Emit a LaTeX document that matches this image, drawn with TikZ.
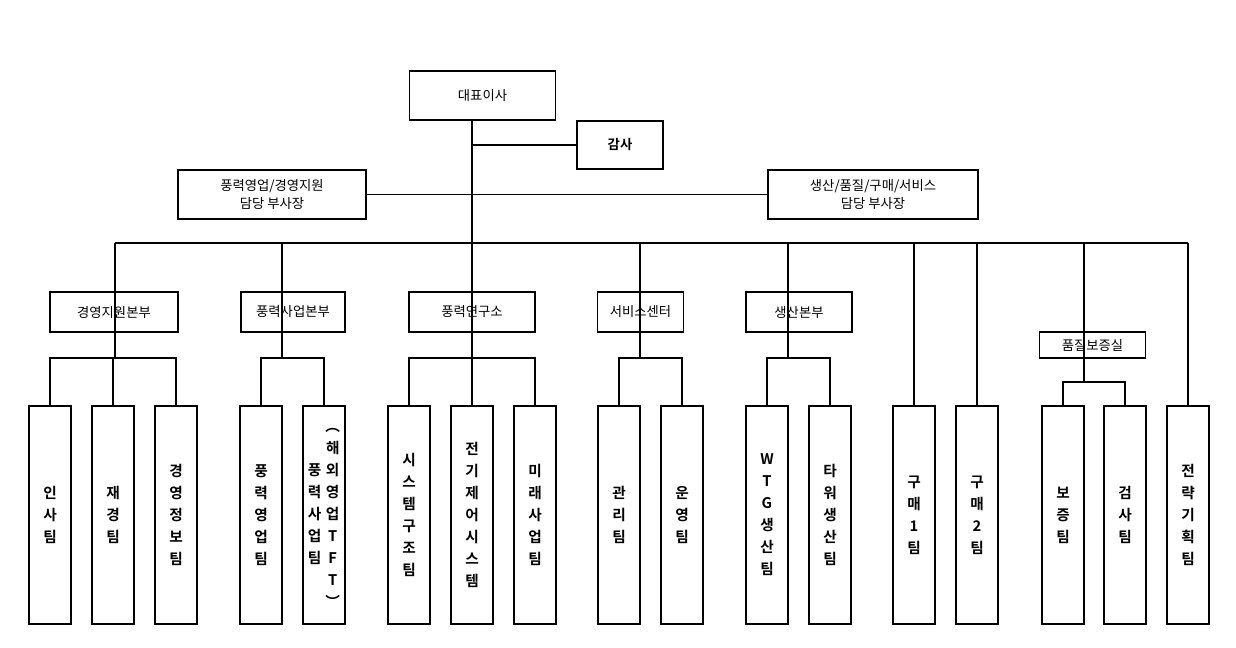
\documentclass[tikz,border=0pt]{standalone}
\usepackage{fontspec}
\setmainfont{Noto Sans CJK KR}[BoldFont={Noto Sans CJK KR Bold}]
\begin{document}
\begin{tikzpicture}[x=0.75pt,y=-0.75pt,line width=0.8pt,
  box/.style={draw,minimum height=#1*0.75pt,inner sep=0pt,align=center,font=\fontsize{10}{13}\selectfont},
  tall/.style={draw,minimum width=31.5pt,minimum height=163.5pt,inner sep=0pt,align=center,font=\bfseries\fontsize{11}{16.5}\selectfont}]
\useasboundingbox (0,0) rectangle (1236,647);
% top
\node[box=49,minimum width=110pt] (ceo) at (482.5,95.5) {대표이사};
\node[box=48,minimum width=64.5pt] (audit) at (620,145) {\bfseries 감사};
\node[box=49,minimum width=141pt] (vp1) at (272,194.5) {풍력영업/경영지원\\담당 부사장};
\node[box=49,minimum width=157.5pt] (vp2) at (873,194.5) {생산/품질/구매/서비스\\담당 부사장};
\coordinate (t0) at (472,120);
\coordinate (tb) at (472,243);
\coordinate (ta) at (472,145);
\draw (t0) -- (tb);
\draw (ta) -- (audit.west);
\draw (vp1.east) -- (vp2.west);
\coordinate (bl) at (115,243); \coordinate (br) at (1188,243);
\draw (bl) -- (br);
% level 2
\node[box=40,minimum width=96pt] (d1) at (114,312) {경영지원본부};
\node[box=40,minimum width=78pt] (d2) at (293,312) {풍력사업본부};
\node[box=40,minimum width=94.5pt] (d3) at (472,312) {풍력연구소};
\node[box=40,minimum width=64pt] (d4) at (640.5,312) {서비스센터};
\node[box=40,minimum width=79.5pt] (d5) at (799,312) {생산본부};
\node[box=26,minimum width=79pt] (d6) at (1092.5,345) {품질보증실};
\foreach \x/\n/\y in {115/d1/358,282/d2/358,472/d3/358,640/d4/358,788/d5/358,1084/d6/382}{
  \coordinate (p) at (\x,243); \coordinate (q) at (\x,\y);
  \draw (p) -- (q);}
% level 3
\foreach \n/\x/\t in {
 a1/50/{인\\사\\팀}, a2/113/{재\\경\\팀}, a3/176/{경\\영\\정\\보\\팀},
 b1/261/{풍\\력\\영\\업\\팀},
 c1/409/{시\\스\\템\\구\\조\\팀}, c2/472/{전\\기\\제\\어\\시\\스\\템}, c3/535/{미\\래\\사\\업\\팀},
 e1/619/{관\\리\\팀}, e2/682/{운\\영\\팀},
 f1/767/{W\\T\\G\\생\\산\\팀}, f2/830/{타\\워\\생\\산\\팀},
 g1/914/{구\\매\\1\\팀}, g2/977/{구\\매\\2\\팀},
 h1/1063/{보\\증\\팀}, h2/1125/{검\\사\\팀}, k1/1188/{전\\략\\기\\획\\팀}}{
 \node[tall] (\n) at (\x,515) {\t};}
\node[tall] (b2) at (324,515) {\begin{tabular}{@{}c@{\hspace{3pt}}c@{}}
 & ︵\\ &해\\ 풍&외\\ 력&영\\ 사&업\\ 업&T\\ 팀&F\\ &T\\ &︶\end{tabular}};
% buses
\draw (a1.north) -- (50,358) -- (176,358) -- (a3.north); \draw (a2.north) -- (113,358);
\draw (b1.north) -- (261,358) -- (324,358) -- (b2.north);
\draw (c1.north) -- (409,358) -- (535,358) -- (c3.north); \draw (c2.north) -- (472,358);
\draw (e1.north) -- (619,358) -- (682,358) -- (e2.north);
\draw (f1.north) -- (767,358) -- (830,358) -- (f2.north);
\draw (h1.north) -- (1063,382) -- (1125,382) -- (h2.north);
\draw (g1.north |- br) -- (g1.north);
\draw (g2.north |- br) -- (g2.north);
\draw (br) -- (k1.north);
\end{tikzpicture}
\end{document}
